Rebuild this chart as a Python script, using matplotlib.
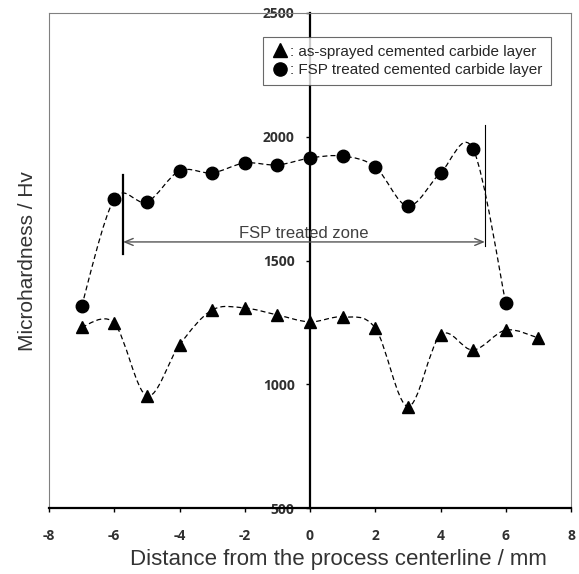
import numpy as np
import matplotlib
matplotlib.use('Agg')
import matplotlib.pyplot as plt
from matplotlib.path import Path
from matplotlib.patches import PathPatch
from matplotlib.lines import Line2D

# ---- data ----
x_fsp = [-7, -6, -5, -4, -3, -2, -1, 0, 1, 2, 3, 4, 5, 6]
hv_fsp = [1316, 1748, 1736, 1862, 1854, 1894, 1886, 1914, 1922, 1878, 1720, 1854, 1950, 1328]

x_sprayed = [-7, -6, -5, -4, -3, -2, -1, 0, 1, 2, 3, 4, 5, 6, 7]
hv_sprayed = [1231, 1247, 953, 1159, 1300, 1308, 1280, 1252, 1272, 1227, 910, 1199, 1138, 1219, 1187]

x_ticks = [-8, -6, -4, -2, 0, 2, 4, 6, 8]
y_ticks = [500, 1000, 1500, 2000, 2500]

zone_left_x = -5.73
zone_left_y = [1526, 1845]
zone_right_x = 5.36
zone_right_y = [1559, 2047]
zone_arrow_y = 1575
zone_label = 'FSP treated zone'
zone_label_pos = (-0.2, 1611)

legend_labels = [': as-sprayed cemented carbide layer', ': FSP treated cemented carbide layer']
x_label = 'Distance from the process centerline / mm'
y_label = 'Microhardness / Hv'


def smooth_path(xs, ys):
    pts = np.column_stack([xs, ys]).astype(float)
    n = len(pts)
    verts = [pts[0]]
    codes = [Path.MOVETO]
    for i in range(n - 1):
        p0 = pts[i - 1] if i > 0 else pts[i]
        p1 = pts[i]
        p2 = pts[i + 1]
        p3 = pts[i + 2] if i + 2 < n else pts[i + 1]
        c1 = p1 + (p2 - p0) / 6.0
        c2 = p2 - (p3 - p1) / 6.0
        verts += [c1, c2, p2]
        codes += [Path.CURVE4] * 3
    return Path(verts, codes)


fig = plt.figure(figsize=(5.79, 5.74), dpi=100)
ax = fig.add_axes([49 / 579, 1 - 508 / 574, (571 - 49) / 579, (508 - 13) / 574])
ax.set_xlim(-8, 8)
ax.set_ylim(500, 2500)

# smoothed dashed lines
for xs, ys in [(x_fsp, hv_fsp), (x_sprayed, hv_sprayed)]:
    ax.add_patch(PathPatch(smooth_path(xs, ys), fill=False, edgecolor='black',
                           lw=0.9, linestyle=(0, (4, 2.5)), zorder=2))

ax.plot(x_fsp, hv_fsp, ls='none', marker='o', ms=9, color='black', zorder=3)
ax.plot(x_sprayed, hv_sprayed, ls='none', marker='^', ms=9, color='black', zorder=3)

# zone markers
ax.plot([zone_left_x, zone_left_x], zone_left_y, color='black', lw=1.6, zorder=3)
ax.plot([zone_right_x, zone_right_x], zone_right_y, color='black', lw=0.8, zorder=3)
ax.annotate('', xy=(zone_left_x, zone_arrow_y), xytext=(zone_right_x, zone_arrow_y),
            arrowprops=dict(arrowstyle='<->,head_length=0.6,head_width=0.25',
                            color='#555555', lw=1.0, shrinkA=0, shrinkB=0))
ax.text(zone_label_pos[0], zone_label_pos[1], zone_label, ha='center', va='center',
        fontsize=12, color='#404040', family='Liberation Sans')

# spines
ax.spines['left'].set_position(('data', 0))
ax.spines['left'].set_linewidth(1.6)
ax.spines['left'].set_color('black')
ax.spines['bottom'].set_linewidth(1.6)
ax.spines['bottom'].set_color('black')
for s in ['top', 'right']:
    ax.spines[s].set_color('#808080')
    ax.spines[s].set_linewidth(0.8)
ax.plot([0, 0], [0, 1], transform=ax.transAxes, color='#808080', lw=0.8, clip_on=False)

ax.set_xticks(x_ticks)
ax.set_yticks(y_ticks)
ax.set_xticklabels([str(v) for v in x_ticks])
ax.set_yticklabels([str(v) for v in y_ticks])
ax.tick_params(axis='y', direction='out', length=3, width=1, pad=8, labelsize=10, colors='black')
ax.tick_params(axis='x', direction='out', length=3, width=1, pad=12, labelsize=10, colors='black')
for lbl in ax.get_xticklabels() + ax.get_yticklabels():
    lbl.set_fontweight('bold')
    lbl.set_family('Open Sans')
    lbl.set_color('#303030')

fig.text(338 / 579, 1 - 560 / 574, x_label, ha='center', va='center', fontsize=16,
         color='#333333', family='Liberation Sans')
fig.text(28 / 579, 1 - 261 / 574, y_label, ha='center', va='center', fontsize=15,
         rotation=90, color='#333333', family='Liberation Sans')

handles = [Line2D([], [], ls='none', marker='^', ms=9.5, color='black'),
           Line2D([], [], ls='none', marker='o', ms=9.5, color='black')]
leg = ax.legend(handles, legend_labels, loc='upper left',
                bbox_to_anchor=(263 / 579, 1 - 37 / 574), bbox_transform=fig.transFigure,
                borderaxespad=0, frameon=True, fancybox=False, edgecolor='#444444',
                handlelength=1.2, handletextpad=0.1, labelspacing=0.3, borderpad=0.5,
                prop={'family': 'Liberation Sans', 'size': 11})
leg.get_frame().set_linewidth(0.8)
for t in leg.get_texts():
    t.set_color('#262626')

fig.savefig('out.png', dpi=100)
